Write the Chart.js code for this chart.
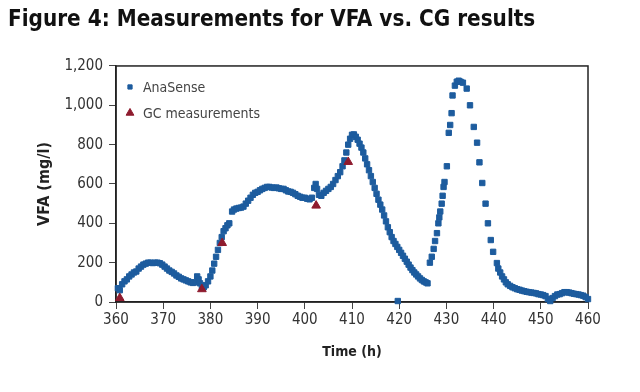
<!DOCTYPE html>
<html>
<head>
<meta charset="utf-8">
<script src="https://cdn.jsdelivr.net/npm/chart.js@4/dist/chart.umd.min.js"></script>
<style>
  html, body { margin: 0; padding: 0; background: #fff; }
  #wrap { width: 640px; height: 392px; }
</style>
</head>
<body>
<div id="wrap"><canvas id="vfaChart" width="640" height="392"></canvas></div>
<script>
// AnaSense readings (time in h, VFA in mg/l)
const anaTime = [
  360.4, 360.8, 361.3, 361.8, 362.3, 362.8, 363.3, 363.8, 364.3, 364.8,
  365.3, 365.8, 366.3, 366.8, 367.3, 367.8, 368.3, 368.8, 369.3, 369.8,
  370.3, 370.8, 371.3, 371.8, 372.3, 372.8, 373.3, 373.8, 374.3, 374.8,
  375.3, 375.8, 376.3, 376.8, 377.2, 377.5, 377.8, 378.2, 378.6, 379.0,
  379.5, 380.0, 380.4, 380.8, 381.2, 381.6, 382.0, 382.4, 382.8, 383.2,
  383.6, 384.0, 384.6, 385.0, 385.5, 386.0, 386.5, 387.0, 387.5, 388.0,
  388.5, 389.0, 389.5, 390.0, 390.5, 391.0, 391.5, 392.0, 392.5, 393.0,
  393.5, 394.0, 394.5, 395.0, 395.5, 396.0, 396.5, 397.0, 397.5, 398.0,
  398.5, 399.0, 399.5, 400.0, 400.5, 401.0, 401.5, 402.0, 402.3, 402.6,
  403.0, 403.5, 404.0, 404.5, 405.0, 405.5, 406.0, 406.5, 407.0, 407.5,
  408.0, 408.4, 408.8, 409.2, 409.6, 410.0, 410.4, 410.8, 411.2, 411.6,
  412.0, 412.4, 412.8, 413.2, 413.6, 414.0, 414.4, 414.8, 415.2, 415.6,
  416.0, 416.4, 416.8, 417.2, 417.6, 418.0, 418.4, 418.8, 419.2, 419.6,
  420.0, 420.4, 420.8, 421.2, 421.6, 422.0, 422.4, 422.8, 423.2, 423.6,
  424.0, 424.4, 424.8, 425.2, 425.6, 426.0, 419.7,
  426.5, 426.9, 427.3, 427.6, 428.0, 428.3, 428.5, 428.7, 429.0, 429.2,
  429.4, 429.6, 430.1, 430.5, 430.8, 431.1, 431.3, 431.8, 432.2, 432.6,
  433.0, 433.5, 434.3, 435.0, 435.8, 436.5, 437.0, 437.6, 438.3, 438.8,
  439.4, 439.9, 440.7,
  441.0, 441.4, 441.8, 442.2, 442.6, 443.0, 443.5, 444.0, 444.5, 445.0,
  445.5, 446.0, 446.5, 447.0, 447.5, 448.0, 448.5, 449.0, 449.5, 450.0,
  450.5, 451.0, 451.5, 452.0, 452.5, 453.0, 453.5, 454.0, 454.5, 455.0,
  455.5, 456.0, 456.5, 457.0, 457.5, 458.0, 458.5, 459.0, 459.5, 460.0
];
const anaVfa = [
  70, 60, 90, 105, 115, 130, 140, 150, 155, 170,
  180, 190, 195, 200, 200, 198, 200, 200, 197, 190,
  180, 170, 160, 153, 145, 135, 128, 120, 115, 110,
  105, 100, 97, 100, 130, 115, 95, 80, 75, 85,
  105, 130, 160, 195, 230, 265, 300, 330, 360, 375,
  390, 400, 460, 470, 475, 478, 480, 485, 500, 515,
  530, 545, 555, 560, 568, 575, 580, 585, 585, 582,
  580, 582, 578, 575, 575, 568, 562, 560, 555, 548,
  540, 535, 530, 530, 525, 522, 530, 580, 600, 575,
  545, 540, 555, 565, 575, 585, 600, 620, 640, 660,
  690, 720, 760, 800, 830, 850, 852, 840, 825, 805,
  785, 760, 730, 700, 670, 640, 610, 580, 550, 520,
  495, 470, 440, 410, 380, 355, 330, 310, 295, 280,
  265, 250, 235, 220, 205, 190, 175, 162, 150, 140,
  130, 120, 112, 105, 100, 95, 5,
  200, 230, 270, 310, 350, 400, 430, 460, 500, 540,
  585, 610, 690, 860, 900, 960, 1050, 1100, 1120, 1125,
  1120, 1115, 1085, 1000, 890, 810, 710, 605, 500, 400,
  315, 255, 198,
  170, 150, 130, 115, 100, 90, 82, 75, 70, 65,
  62, 58, 55, 52, 50, 48, 46, 44, 40, 38,
  35, 30, 15, 5, 20, 30, 38, 40, 45, 50,
  50, 48, 45, 42, 40, 38, 35, 32, 25, 15
];

// GC lab measurements
const gcTime = [360.8, 378.2, 382.5, 402.4, 409.2];
const gcVfa = [20, 65, 300, 490, 712];

const xTicks = [360, 370, 380, 390, 400, 410, 420, 430, 440, 450, 460];
const yTicks = [0, 200, 400, 600, 800, 1000, 1200];

const narrow = "'DejaVu Sans Condensed', 'Liberation Sans Narrow', sans-serif";
const blue = '#1d5c9e';
const red = '#8e1b2e';

const toPoints = (xs, ys) => xs.map((x, i) => ({ x: x, y: ys[i] }));

// closed frame round the plot area
const frame = {
  id: 'frame',
  beforeDatasetsDraw(chart) {
    const a = chart.chartArea;
    const c = chart.ctx;
    c.save();
    c.strokeStyle = '#222';
    c.lineWidth = 1.5;
    c.strokeRect(a.left, a.top, a.right - a.left, a.bottom - a.top);
    c.restore();
  }
};

// legend sitting inside the top left corner of the plot
const insideLegend = {
  id: 'insideLegend',
  afterDatasetsDraw(chart) {
    const a = chart.chartArea;
    const c = chart.ctx;
    c.save();
    c.font = '14px ' + narrow;
    c.textBaseline = 'middle';
    chart.data.datasets.forEach((ds, i) => {
      const y = a.top + 21 + i * 26;
      c.fillStyle = ds.backgroundColor;
      c.strokeStyle = ds.borderColor;
      c.lineWidth = 1;
      Chart.helpers.drawPoint(c, {
        pointStyle: ds.pointStyle,
        radius: i === 0 ? 3 : 4.5,
        rotation: 0,
        borderWidth: 1
      }, a.left + 14, y);
      c.fillStyle = '#444';
      c.fillText(ds.label, a.left + 27, y + 1);
    });
    c.restore();
  }
};

const ctx = document.getElementById('vfaChart').getContext('2d');
new Chart(ctx, {
  type: 'scatter',
  data: {
    datasets: [{
      label: 'AnaSense',
      data: toPoints(anaTime, anaVfa),
      pointStyle: 'rect',
      pointRadius: 3.8,
      borderWidth: 1,
      borderColor: blue,
      backgroundColor: blue,
      order: 1,
      clip: false
    }, {
      label: 'GC measurements',
      data: toPoints(gcTime, gcVfa),
      pointStyle: 'triangle',
      pointRadius: 5,
      borderWidth: 1,
      borderColor: red,
      backgroundColor: red,
      order: 0,
      clip: false
    }]
  },
  options: {
    responsive: false,
    animation: false,
    layout: { padding: { left: 8, right: 52, top: 0, bottom: 0 } },
    plugins: {
      tooltip: { enabled: false },
      legend: { display: false },
      title: {
        display: true,
        text: 'Figure 4: Measurements for VFA vs. CG results',
        align: 'start',
        color: '#111',
        font: { family: narrow, size: 22.3, weight: 'bold', lineHeight: 1.2 },
        padding: { top: 6.5, bottom: 32.7 }
      }
    },
    scales: {
      x: {
        type: 'linear',
        min: 360,
        max: 460,
        afterBuildTicks: s => { s.ticks = xTicks.map(v => ({ value: v })); },
        afterFit: s => { s.height = 90; },
        ticks: { color: '#333', font: { family: narrow, size: 15 }, padding: 2 },
        grid: { drawOnChartArea: false, tickLength: 7, color: '#444' },
        border: { color: '#222', width: 1.5 },
        title: {
          display: true,
          text: 'Time (h)',
          color: '#222',
          font: { family: narrow, size: 14, weight: 'bold', lineHeight: 1.2 },
          padding: { top: 0, bottom: 31.6 }
        }
      },
      y: {
        min: 0,
        max: 1200,
        afterBuildTicks: s => { s.ticks = yTicks.map(v => ({ value: v })); },
        afterFit: s => { s.width = 108; },
        ticks: {
          color: '#333',
          font: { family: narrow, size: 15 },
          padding: 6,
          callback: v => v.toLocaleString('en-US')
        },
        grid: { drawOnChartArea: false, tickLength: 7, color: '#444' },
        border: { color: '#222', width: 1.5 },
        title: {
          display: true,
          text: 'VFA (mg/l)',
          color: '#222',
          font: { family: narrow, size: 16, weight: 'bold', lineHeight: 1.2 },
          padding: { top: 27.4, bottom: 0 }
        }
      }
    }
  },
  plugins: [frame, insideLegend]
});
</script>
</body>
</html>
